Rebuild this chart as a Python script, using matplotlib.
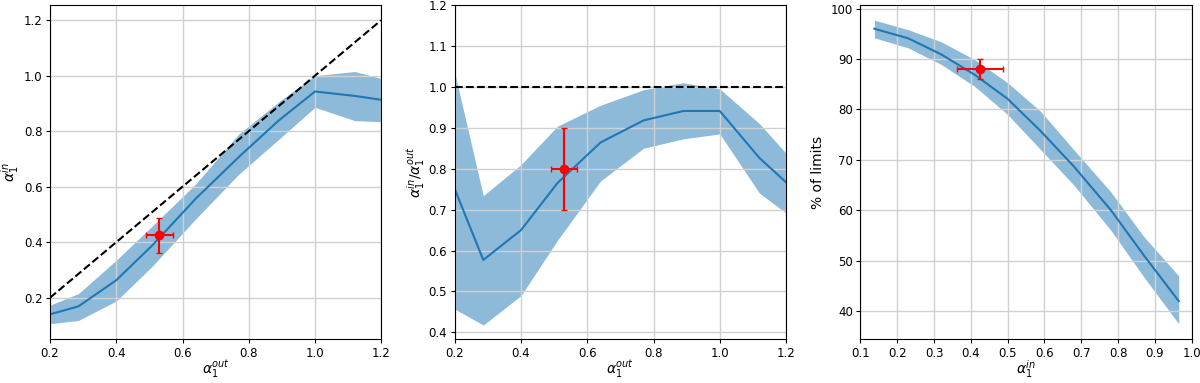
import matplotlib
matplotlib.use("Agg")
import matplotlib.pyplot as plt
from matplotlib.ticker import MultipleLocator

# alpha_out grid (panels 1 and 2)
a_out = [0.2, 0.286, 0.4, 0.51, 0.64, 0.77, 0.89, 1.0, 1.12, 1.2]

# panel 1: recovered alpha_in vs alpha_out
ain_mean = [0.14, 0.169, 0.263, 0.39, 0.557, 0.707, 0.838, 0.943, 0.927, 0.913]
ain_hi = [0.173, 0.215, 0.335, 0.46, 0.61, 0.79, 0.905, 1.0, 1.015, 0.99]
ain_lo = [0.106, 0.118, 0.188, 0.315, 0.484, 0.645, 0.77, 0.886, 0.838, 0.834]

# panel 2: ratio alpha_in / alpha_out
ratio_mean = [0.75, 0.577, 0.65, 0.765, 0.864, 0.918, 0.941, 0.941, 0.826, 0.767]
ratio_hi = [1.034, 0.734, 0.81, 0.904, 0.955, 0.993, 1.01, 0.995, 0.91, 0.838]
ratio_lo = [0.457, 0.418, 0.49, 0.625, 0.77, 0.85, 0.873, 0.885, 0.74, 0.692]

# panel 3: % of limits vs alpha_in
a_in = [0.138, 0.23, 0.32, 0.41, 0.5, 0.59, 0.68, 0.78, 0.87, 0.965]
pct_mean = [96.0, 94.1, 90.9, 86.9, 82.1, 75.7, 68.7, 60.1, 51.1, 42.0]
pct_hi = [97.7, 95.8, 93.4, 89.9, 85.3, 79.6, 72.0, 63.7, 54.8, 47.0]
pct_lo = [94.2, 92.2, 88.9, 84.6, 79.0, 72.0, 65.0, 56.1, 46.8, 37.5]

# measured points (x, y, xerr, yerr)
meas1 = (0.53, 0.425, 0.04, 0.063)
meas2 = (0.53, 0.80, 0.04, 0.10)
meas3 = (0.425, 88.0, 0.062, 2.0)

plt.rcParams['xtick.major.size'] = 3
plt.rcParams['ytick.major.size'] = 3
plt.rcParams['xtick.major.pad'] = 2.5
plt.rcParams['ytick.major.pad'] = 2.5
plt.rcParams['xtick.labelsize'] = 8.5
plt.rcParams['ytick.labelsize'] = 8.5
plt.rcParams['grid.color'] = '#d0d0d0'
plt.rcParams['grid.linewidth'] = 1.0

fig = plt.figure(figsize=(12, 3.83), dpi=100)
ax1 = fig.add_axes([0.0417, 0.115, 0.276, 0.872])
ax2 = fig.add_axes([0.379, 0.115, 0.276, 0.872])
ax3 = fig.add_axes([0.717, 0.115, 0.276, 0.872])


def draw_point(ax, m):
    ax.errorbar(m[0], m[1], xerr=m[2], yerr=m[3], fmt='o', color='red',
                ms=6, capsize=2.5, elinewidth=1.5, zorder=5)


# panel 1
ax1.fill_between(a_out, ain_lo, ain_hi, color='C0', alpha=0.5, lw=0)
ax1.plot(a_out, ain_mean, color='C0')
ax1.plot([0.2, 1.2], [0.2, 1.2], 'k--')
draw_point(ax1, meas1)
ax1.set_xlim(0.2, 1.2)
ax1.set_xlabel(r'$\alpha_1^{out}$', labelpad=-1)
ax1.set_ylabel(r'$\alpha_1^{in}$', labelpad=2)
ax1.grid(True)

# panel 2
ax2.fill_between(a_out, ratio_lo, ratio_hi, color='C0', alpha=0.5, lw=0)
ax2.plot(a_out, ratio_mean, color='C0')
ax2.axhline(1.0, color='k', ls='--')
draw_point(ax2, meas2)
ax2.set_xlim(0.2, 1.2)
ax2.set_ylim(0.384, 1.2)
ax2.set_xlabel(r'$\alpha_1^{out}$', labelpad=-1)
ax2.set_ylabel(r'$\alpha_1^{in}/\alpha_1^{out}$', labelpad=1)
ax2.grid(True)

# panel 3
ax3.fill_between(a_in, pct_lo, pct_hi, color='C0', alpha=0.5, lw=0)
ax3.plot(a_in, pct_mean, color='C0')
draw_point(ax3, meas3)
ax3.set_xlim(0.1, 1.0)
ax3.xaxis.set_major_locator(MultipleLocator(0.1))
ax3.set_xlabel(r'$\alpha_1^{in}$', labelpad=-1)
ax3.set_ylabel('% of limits', labelpad=4)
ax3.grid(True)

fig.savefig('out.png', dpi=100)
